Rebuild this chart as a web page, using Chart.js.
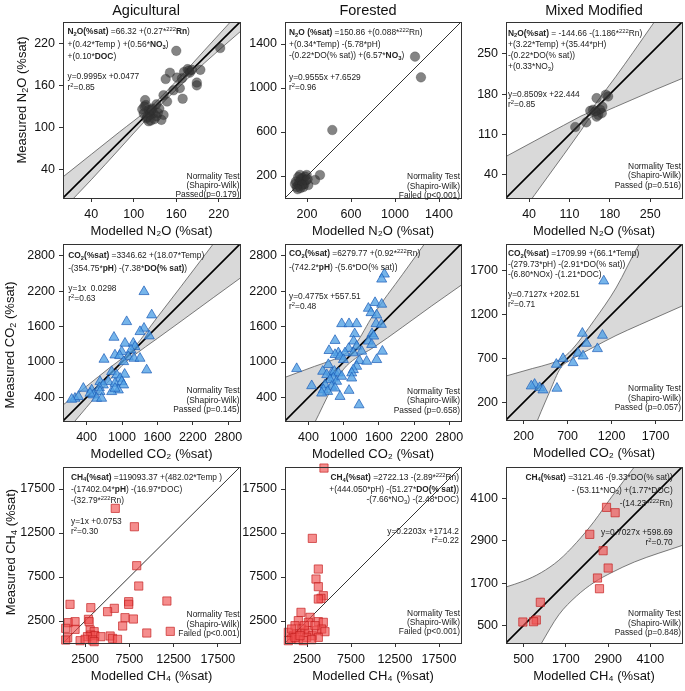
<!DOCTYPE html>
<html>
<head>
<meta charset="utf-8">
<script src="https://cdn.jsdelivr.net/npm/chart.js@4.4.1/dist/chart.umd.min.js"></script>
<style>
  body { margin: 0; background: #fff; width: 685px; height: 691px; position: relative; overflow: hidden;
         font-family: 'Liberation Sans', Arial, sans-serif; color: #111; }
  canvas { position: absolute; }
  .txt { position: absolute; white-space: nowrap; color: #222; z-index: 2; }
  .txt sup, .txt sub { font-size: 5.8px; position: relative; vertical-align: baseline; }
  .txt sup { top: -3px; }
  .txt sub { top: 1.8px; }
  .head { position: absolute; font-size: 14.5px; transform: translateX(-50%); white-space: nowrap; }
  .ytitle { position: absolute; font-size: 13px; white-space: nowrap; transform: translate(-50%, -50%) rotate(-90deg); }
  .ytitle sub { font-size: 9px; vertical-align: -2px; }
</style>
</head>
<body>
<script>
// ---------- data ----------
// N2O, Agicultural
const agN2O_x = [160,222,178,179,176,194,189,189,151,145,161,165,156,169,142,147,132,116,126,117,121,114,123,118,128,132,142,139,121,125,136,112,119,129,134,124,171,182,168,115];
const agN2O_y = [209,213,181,178,183,182,164,160,178,169,171,156,153,141,146,137,133,139,127,132,125,120,118,113,120,116,118,111,109,125,127,126,115,112,121,110,179,182,170,130];
const agN2O_lineX = [0, 250];
const agN2O_lineY = [0, 250];
const agN2O_bandX = [0, 40, 80, 120, 160, 200, 250];
const agN2O_bandHi = [30, 62, 94, 126, 166, 210, 265];
const agN2O_bandLo = [-16, 26, 70, 114, 154, 192, 236];

// N2O, Forested
const foN2O_x = [1182,1236,430,318,273,121,151,182,106,136,197,167,212,91,145,176,130,160,100,190,140,120,205,155,115];
const foN2O_y = [1285,1097,618,209,164,118,155,194,100,209,209,100,118,127,173,127,145,180,150,160,90,190,170,120,80];
const foN2O_lineX = [0, 1600];
const foN2O_lineY = [0, 1600];

// N2O, Mixed Modified
const mmN2O_x = [120,139,157,163,160,167,177,173,166,151,157,155,146];
const mmN2O_y = [123,131,173,153,144,158,176,179,147,153,141,150,151];
const mmN2O_lineX = [0, 305];
const mmN2O_lineY = [0, 305];
const mmN2O_bandX = [0, 50, 100, 130, 145, 160, 190, 220, 257, 305];
const mmN2O_bandHi = [72, 99, 126, 142, 150, 170, 210, 252, 305, 371];
const mmN2O_bandLo = [-63, 6, 75, 117, 138, 145, 158, 171, 187, 207];

// CO2, Agicultural
const agCO2_x = [1373,1503,1079,1373,1305,1463,864,1051,1192,1220,1153,995,1107,1203,1305,881,695,960,1028,1418,1045,825,910,966,768,881,995,1028,627,684,616,938,825,881,345,486,627,514,571,655,203,260,147,458];
const agCO2_y = [2192,1797,1683,1571,1514,1441,1418,1317,1317,1260,1203,1175,1090,1062,1062,1118,1045,1107,1005,864,791,836,780,723,667,638,667,610,667,610,565,525,497,553,553,525,497,441,384,384,384,413,367,469];
const agCO2_lineX = [0, 3000];
const agCO2_lineY = [0, 3000];
const agCO2_bandX = [0, 400, 800, 1000, 1200, 1600, 2000, 2546, 3000];
const agCO2_bandHi = [271, 590, 910, 1060, 1240, 1760, 2280, 3000, 3595];
const agCO2_bandLo = [-240, 232, 704, 940, 1110, 1400, 1690, 2089, 2419];

// CO2, Forested
const foCO2_x = [1694,1648,1535,1648,1421,1466,1562,966,1091,1222,1552,1643,1188,1483,1512,853,1170,1421,1478,1222,1085,750,910,1023,1307,1660,1165,853,938,995,1267,1392,1563,739,1222,1165,1137,1137,199,643,796,711,841,910,824,767,880,966,682,796,455,853,654,727,625,1091,938,1262];
const foCO2_y = [2489,2404,2006,1978,1909,1835,1796,1648,1648,1648,1648,1637,1478,1478,1438,1364,1353,1353,1296,1267,1228,1193,1154,1154,1182,1182,1154,1125,1096,1040,1023,1011,1040,955,926,869,813,727,887,841,813,784,841,813,727,699,671,756,614,586,597,557,529,500,472,518,415,273];
const foCO2_lineX = [0, 3000];
const foCO2_lineY = [0, 3000];
const foCO2_bandX = [0, 500, 800, 1000, 1200, 1500, 2000, 2500, 3000];
const foCO2_bandHi = [740, 925, 1030, 1120, 1300, 1790, 2480, 3170, 3860];
const foCO2_bandLo = [-960, -40, 560, 880, 1060, 1240, 1590, 1950, 2300];

// CO2, Mixed Modified
const mmCO2_x = [1111,868,1096,914,1039,819,876,648,762,572,325,287,382,420,579];
const mmCO2_y = [1579,985,962,871,810,758,727,697,651,632,405,386,367,341,360];
const mmCO2_lineX = [0, 2000];
const mmCO2_lineY = [0, 2000];
const mmCO2_bandX = [0, 300, 500, 620, 750, 1000, 1250, 1514, 2000];
const mmCO2_bandHi = [500, 585, 640, 690, 800, 1130, 1500, 2000, 2700];
const mmCO2_bandLo = [-1000, -150, 330, 590, 690, 830, 960, 1080, 1295];

// CH4, Agicultural
const agCH4_x = [5907,8066,8330,8558,795,3142,5798,5037,7421,7421,11740,7006,7952,2878,2954,606,1363,303,1363,6742,3066,3520,3142,3597,2764,4278,5325,5591,6158,1931,2499,3332,3520,530,303,9466,12120];
const agCH4_y = [15300,13212,8784,6475,4393,4014,3938,3560,4695,4393,4771,2877,2726,2688,2423,2310,2423,1666,1552,1931,1477,1287,909,833,719,719,795,530,416,265,416,341,151,606,341,1136,1325];
const agCH4_lineX = [0, 20000];
const agCH4_lineY = [0, 20000];

// CH4, Forested
const foCH4_x = [4430,3105,3787,3522,3787,4354,4089,3787,1818,2840,1515,2650,3787,4354,379,947,1325,1893,2272,2650,3105,3597,4165,4544,3787,2461,757,1515,2083,3029,379,1136,1704,3408,1136,2196,757];
const foCH4_y = [19880,11890,8406,7270,6400,5377,5075,4999,3484,2916,2537,2348,2424,2348,1212,833,1023,1590,1212,1401,833,1401,1590,1287,644,644,454,379,265,379,265,644,833,1969,1969,1969,1590];
const foCH4_lineX = [0, 20000];
const foCH4_lineY = [0, 20000];

// CH4, Mixed Modified
const mmCH4_x = [2855,3101,2380,2759,2902,2599,2656,975,861,784,479];
const mmCH4_y = [3853,3701,3087,2622,2130,1846,1542,1156,653,605,596];
const mmCH4_lineX = [0, 5000];
const mmCH4_lineY = [0, 5000];
const mmCH4_bandX = [0, 500, 1000, 1500, 2000, 2500, 3000, 3644, 5000];
const mmCH4_bandHi = [1591, 1760, 2000, 2350, 2850, 3450, 4150, 5000, 6800];
const mmCH4_bandLo = [-1800, -900, -20, 800, 1330, 1720, 2000, 2300, 2771];

// axis ranges and tick labels
const rangeN2OAg = [0, 250],   ticksN2OAg = [40, 100, 160, 220];
const rangeN2OFo = [0, 1600],  ticksN2OFo = [200, 600, 1000, 1400];
const rangeN2OMm = [0, 305],   ticksN2OMm = [40, 110, 180, 250];
const rangeCO2 = [0, 3000],    ticksCO2 = [400, 1000, 1600, 2200, 2800];
const rangeCO2Mm = [0, 2000],  ticksCO2Mm = [200, 700, 1200, 1700];
const rangeCH4 = [0, 20000],   ticksCH4 = [2500, 7500, 12500, 17500];
const rangeCH4Mm = [0, 5000],  ticksCH4Mm = [500, 1700, 2900, 4100];

// ---------- marker styles ----------
const markers = {
  n2o: { pointStyle: 'circle', radius: 4.8, backgroundColor: 'rgba(50,50,50,0.6)', borderColor: 'rgba(40,40,40,0.5)', borderWidth: 0.5 },
  co2: { pointStyle: 'triangle', radius: 5.8, backgroundColor: 'rgba(80,160,228,0.78)', borderColor: 'rgba(30,95,185,0.9)', borderWidth: 0.8 },
  ch4: { pointStyle: 'rect', radius: 5.8, backgroundColor: 'rgba(240,80,80,0.65)', borderColor: 'rgba(195,30,30,0.85)', borderWidth: 0.8 }
};

// ---------- panels: box = [left, top, right, bottom] of the plot frame ----------
const panels = [
  { col: 0, box: [63, 22, 240, 198], range: rangeN2OAg, ticks: ticksN2OAg, xs: agN2O_x, ys: agN2O_y, mk: 'n2o',
    line: [agN2O_lineX, agN2O_lineY, true], band: [agN2O_bandX, agN2O_bandHi, agN2O_bandLo], xTitle: 'Modelled N₂O (%sat)',
    eq: { x: 67.5, y: 32, lh: 11.5, lines: ['<b>N<sub>2</sub>O(%sat)</b> =66.32 +(0.27*<sup>222</sup><b>Rn</b>)', '+(0.42*Temp ) +(0.56*<b>NO<sub>3</sub></b>)', '+(0.10*<b>DOC</b>)'] },
    fit: { x: 67.5, y: 76, lh: 11, lines: ['y=0.9995x +0.0477', 'r<sup>2</sup>=0.85'] },
    norm: { x: 239.5, y: 176.5, lines: ['Normality Test', '(Shapiro-Wilk)', 'Passed(p=0.179)'] } },
  { col: 1, box: [285, 22, 461, 198], range: rangeN2OFo, ticks: ticksN2OFo, xs: foN2O_x, ys: foN2O_y, mk: 'n2o',
    line: [foN2O_lineX, foN2O_lineY, false], xTitle: 'Modelled N₂O (%sat)',
    eq: { x: 289, y: 32.3, lh: 11, lines: ['<b>N<sub>2</sub>O (%sat)</b> =150.86 +(0.088*<sup>222</sup>Rn)', '+(0.34*Temp) -(5.78*pH)', '-(0.22*DO(% sat)) +(6.57*<b>NO<sub>3</sub></b>)'] },
    fit: { x: 289, y: 77, lh: 10.5, lines: ['y=0.9555x +7.6529', 'r<sup>2</sup>=0.96'] },
    norm: { x: 460, y: 177, lines: ['Normality Test', '(Shapiro-Wilk)', 'Failed (p&lt;0.001)'] } },
  { col: 2, box: [506, 22, 682, 198], range: rangeN2OMm, ticks: ticksN2OMm, xs: mmN2O_x, ys: mmN2O_y, mk: 'n2o',
    line: [mmN2O_lineX, mmN2O_lineY, true], band: [mmN2O_bandX, mmN2O_bandHi, mmN2O_bandLo], xTitle: 'Modelled N₂O (%sat)',
    eq: { x: 508, y: 33, lh: 10.7, lines: ['<b>N<sub>2</sub>O(%sat)</b> = -144.66 -(1.186*<sup>222</sup>Rn)', '+(3.22*Temp) +(35.44*pH)', '-(0.22*DO(% sat))', '+(0.33*NO<sub>3</sub>)'] },
    fit: { x: 508, y: 94.3, lh: 10, lines: ['y=0.8509x +22.444', 'r<sup>2</sup>=0.85'] },
    norm: { x: 681, y: 166.7, lines: ['Normality Test', '(Shapiro-Wilk)', 'Passed (p=0.516)'] } },

  { col: 0, box: [63, 244, 240, 421], range: rangeCO2, ticks: ticksCO2, xs: agCO2_x, ys: agCO2_y, mk: 'co2',
    line: [agCO2_lineX, agCO2_lineY, true], band: [agCO2_bandX, agCO2_bandHi, agCO2_bandLo], xTitle: 'Modelled CO₂ (%sat)',
    eq: { x: 68.3, y: 255, lh: 12.5, lines: ['<b>CO<sub>2</sub>(%sat)</b> =3346.62 +(18.07*Temp)', '-(354.75*<b>pH</b>) -(7.38*<b>DO(% sat)</b>)'] },
    fit: { x: 68.3, y: 287.7, lh: 10, lines: ['y=1x&nbsp; 0.0298', 'r<sup>2</sup>=0.63'] },
    norm: { x: 239.5, y: 391, lines: ['Normality Test', '(Shapiro-Wilk)', 'Passed (p=0.145)'] } },
  { col: 1, box: [285, 244, 461, 421], range: rangeCO2, ticks: ticksCO2, xs: foCO2_x, ys: foCO2_y, mk: 'co2',
    line: [foCO2_lineX, foCO2_lineY, true], band: [foCO2_bandX, foCO2_bandHi, foCO2_bandLo], xTitle: 'Modelled CO₂ (%sat)',
    eq: { x: 289, y: 253.3, lh: 12.4, lines: ['<b>CO<sub>2</sub>(%sat)</b> =6279.77 +(0.92*<sup>222</sup>Rn)', '-(742.2*<b>pH</b>) -(5.6*DO(% sat))'] },
    fit: { x: 289, y: 295.7, lh: 10, lines: ['y=0.4775x +557.51', 'r<sup>2</sup>=0.48'] },
    norm: { x: 460, y: 391.7, lines: ['Normality Test', '(Shapiro-Wilk)', 'Passed (p=0.658)'] } },
  { col: 2, box: [506, 244, 682, 420], range: rangeCO2Mm, ticks: ticksCO2Mm, xs: mmCO2_x, ys: mmCO2_y, mk: 'co2',
    line: [mmCO2_lineX, mmCO2_lineY, true], band: [mmCO2_bandX, mmCO2_bandHi, mmCO2_bandLo], xTitle: 'Modelled CO₂ (%sat)',
    eq: { x: 508, y: 253.3, lh: 10, lines: ['<b>CO<sub>2</sub>(%sat)</b> =1709.99 +(66.1*Temp)', '-(279.73*pH) -(2.91*DO(% sat))', '-(6.80*NOx) -(1.21*DOC)'] },
    fit: { x: 508, y: 295, lh: 9.5, lines: ['y=0.7127x +202.51', 'r<sup>2</sup>=0.71'] },
    norm: { x: 681, y: 389, lines: ['Normality Test', '(Shapiro-Wilk)', 'Passed (p=0.057)'] } },

  { col: 0, box: [63, 467, 240, 643], range: rangeCH4, ticks: ticksCH4, xs: agCH4_x, ys: agCH4_y, mk: 'ch4',
    line: [agCH4_lineX, agCH4_lineY, false], xTitle: 'Modelled CH₄ (%sat)',
    eq: { x: 71, y: 477.3, lh: 11.3, lines: ['<b>CH<sub>4</sub>(%sat)</b> =119093.37 +(482.02*Temp )', '-(17402.04*<b>pH</b>) -(16.97*DOC)', '-(32.79*<sup>222</sup>Rn)'] },
    fit: { x: 71, y: 521, lh: 10, lines: ['y=1x +0.0753', 'r<sup>2</sup>=0.30'] },
    norm: { x: 239.5, y: 615, lines: ['Normality Test', '(Shapiro-Wilk)', 'Failed (p&lt;0.001)'] } },
  { col: 1, box: [285, 467, 461, 643], range: rangeCH4, ticks: ticksCH4, xs: foCH4_x, ys: foCH4_y, mk: 'ch4',
    line: [foCH4_lineX, foCH4_lineY, false], xTitle: 'Modelled CH₄ (%sat)',
    eq: { x: 459, y: 477.3, lh: 10.5, right: true, lines: ['<b>CH<sub>4</sub>(%sat)</b> =2722.13 -(2.89*<sup>222</sup>Rn)', '+(444.050*pH) -(51.27*<b>DO(% sat)</b>)', '-(7.66*NO<sub>3</sub>) -(2.48*DOC)'] },
    fit: { x: 459, y: 531.7, lh: 9.5, right: true, lines: ['y=0.2203x +1714.2', 'r<sup>2</sup>=0.22'] },
    norm: { x: 460, y: 613.3, lines: ['Normality Test', '(Shapiro-Wilk)', 'Failed (p&lt;0.001)'] } },
  { col: 2, box: [506, 467, 682, 643], range: rangeCH4Mm, ticks: ticksCH4Mm, xs: mmCH4_x, ys: mmCH4_y, mk: 'ch4',
    line: [mmCH4_lineX, mmCH4_lineY, true], band: [mmCH4_bandX, mmCH4_bandHi, mmCH4_bandLo], xTitle: 'Modelled CH₄ (%sat)',
    eq: { x: 672.7, y: 476.7, lh: 12, right: true, lines: ['<b>CH<sub>4</sub>(%sat)</b> =3121.46 -(9.33*DO(% sat))', '- (53.11*NO<sub>3</sub>) +(1.77*DOC)', '-(14.23*<sup>222</sup>Rn)'] },
    fit: { x: 672.7, y: 531.7, lh: 10, right: true, lines: ['y=0.7027x +598.69', 'r<sup>2</sup>=0.70'] },
    norm: { x: 681, y: 614, lines: ['Normality Test', '(Shapiro-Wilk)', 'Passed (p=0.848)'] } }
];

Chart.defaults.font.family = "'Liberation Sans', Arial, sans-serif";
Chart.defaults.color = '#111';

// draws the closed frame around each plot
const framePlugin = {
  id: 'frame',
  afterDatasetsDraw(chart) {
    const { ctx, chartArea: a } = chart;
    ctx.save();
    ctx.strokeStyle = '#333';
    ctx.lineWidth = 1;
    ctx.strokeRect(Math.round(a.left) + 0.5, Math.round(a.top) + 0.5, Math.round(a.right - a.left), Math.round(a.bottom - a.top));
    ctx.restore();
  }
};

const toPts = (xs, ys) => xs.map((x, i) => ({ x: x, y: ys[i] }));

function addText(lines, x, y0, lh, right, size) {
  const d = document.createElement('div');
  d.className = 'txt';
  d.style.top = (y0 - lh / 2) + 'px';
  d.style.lineHeight = lh + 'px';
  d.style.fontSize = size + 'px';
  if (right) { d.style.right = (685 - x) + 'px'; d.style.textAlign = 'right'; }
  else d.style.left = x + 'px';
  d.innerHTML = lines.map(s => '<div>' + s + '</div>').join('');
  document.body.appendChild(d);
}

function makePanel(p) {
  const [l, t, r, b] = p.box;
  const cLeft = p.col === 0 ? 0 : l - 60;
  const padTop = 12, padRight = 24, xAxisH = 41;
  const cv = document.createElement('canvas');
  cv.width = r - cLeft + padRight;
  cv.height = (b - t) + padTop + xAxisH + 2;
  cv.style.left = cLeft + 'px';
  cv.style.top = (t - padTop) + 'px';
  document.body.appendChild(cv);

  const m = markers[p.mk];
  const datasets = [{
    type: 'scatter', data: toPts(p.xs, p.ys), clip: false,
    pointStyle: m.pointStyle, pointRadius: m.radius, pointHoverRadius: m.radius,
    backgroundColor: m.backgroundColor, borderColor: m.borderColor, borderWidth: m.borderWidth
  }];
  datasets.push({
    type: 'line', data: toPts(p.line[0], p.line[1]), borderColor: '#000',
    borderWidth: p.line[2] ? 1.6 : 0.8, pointRadius: 0, fill: false
  });
  if (p.band) {
    datasets.push({ type: 'line', data: toPts(p.band[0], p.band[1]), borderColor: '#5a5a5a', borderWidth: 0.8,
      pointRadius: 0, fill: false, cubicInterpolationMode: 'monotone' });
    datasets.push({ type: 'line', data: toPts(p.band[0], p.band[2]), borderColor: '#5a5a5a', borderWidth: 0.8,
      pointRadius: 0, fill: '-1', backgroundColor: 'rgb(217,217,217)', cubicInterpolationMode: 'monotone' });
  }

  const axis = (isX) => ({
    type: 'linear', min: p.range[0], max: p.range[1],
    afterBuildTicks: s => { s.ticks = p.ticks.map(v => ({ value: v })); },
    afterFit: s => { if (isX) s.height = xAxisH; else s.width = l - cLeft; },
    grid: { drawOnChartArea: false, tickLength: 4, color: '#333' },
    border: { display: false },
    ticks: { padding: isX ? 5 : 4, autoSkip: false, maxRotation: 0, font: { size: 12.5 }, color: '#111',
             callback: v => String(v) },
    title: { display: isX, text: p.xTitle, font: { size: 13 }, padding: 0, color: '#111' }
  });

  new Chart(cv, {
    type: 'scatter',
    data: { datasets: datasets },
    options: {
      responsive: false,
      animation: false,
      events: [],
      layout: { padding: { left: 0, top: padTop, right: padRight, bottom: 2 } },
      plugins: { legend: { display: false }, tooltip: { enabled: false } },
      scales: { x: axis(true), y: axis(false) }
    },
    plugins: [framePlugin]
  });

  addText(p.eq.lines, p.eq.x, p.eq.y, p.eq.lh, !!p.eq.right, 8.4);
  addText(p.fit.lines, p.fit.x, p.fit.y, p.fit.lh, !!p.fit.right, 8.4);
  addText(p.norm.lines, p.norm.x, p.norm.y, 9.2, true, 8.4);
}

panels.forEach(makePanel);

// column headings
[['Agicultural', 146], ['Forested', 368], ['Mixed Modified', 594]].forEach(([txt, cx]) => {
  const d = document.createElement('div');
  d.className = 'head';
  d.textContent = txt;
  d.style.left = cx + 'px';
  d.style.top = '2px';
  document.body.appendChild(d);
});

// y-axis titles (left column only)
[['Measured N<sub>2</sub>O (%sat)', 22, 100], ['Measured CO<sub>2</sub> (%sat)', 10, 345], ['Measured CH<sub>4</sub> (%sat)', 11, 552]].forEach(([html, cx, cy]) => {
  const d = document.createElement('div');
  d.className = 'ytitle';
  d.innerHTML = html;
  d.style.left = cx + 'px';
  d.style.top = cy + 'px';
  document.body.appendChild(d);
});
</script>
</body>
</html>
